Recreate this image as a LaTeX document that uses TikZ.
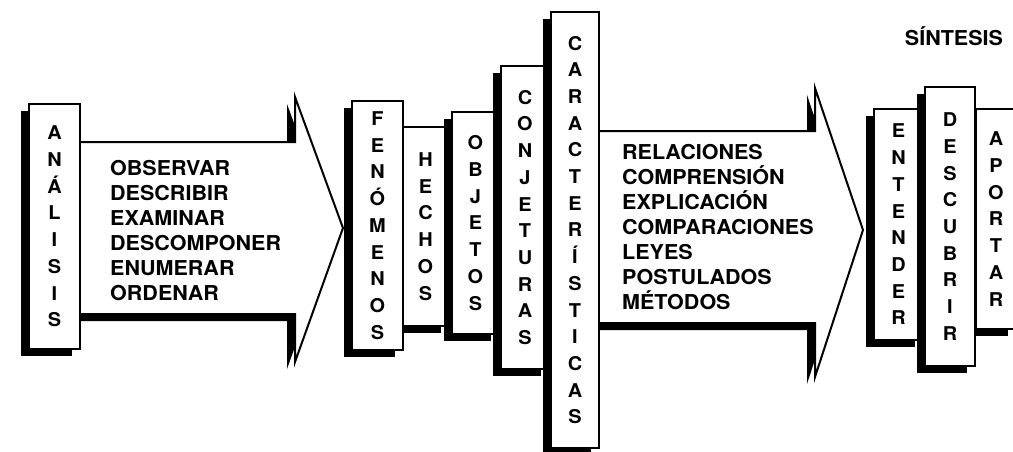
\documentclass[tikz,border=0pt]{standalone}
\usepackage{fontspec}
\setmainfont[FakeStretch=1.05]{TeX Gyre Heros}
\usetikzlibrary{shadows}

\begin{document}
\begin{tikzpicture}[
    x=1pt, y=-1pt,
    boxshadow/.style={
        drop shadow={shadow xshift=-8pt, shadow yshift=-7pt, fill=black, opacity=1}
    },
    letterbox/.style={
        draw,
        fill=white,
        line width=2.2pt,
        inner sep=0pt,
        align=center,
        font=\fontsize{19}{26.7}\selectfont\bfseries,
        boxshadow
    },
    bigarrow/.style={
        draw,
        fill=white,
        line width=2pt,
        line join=miter,
        boxshadow
    },
    arrowtext/.style={
        align=left,
        anchor=west,
        inner sep=0pt,
        font=\fontsize{20.5}{25}\selectfont\bfseries
    },
    title/.style={anchor=base, inner sep=0pt, font=\fontsize{20.5}{25}\selectfont\bfseries}
]
\useasboundingbox (0,0) rectangle (1013,452);

% analysis arrow
\filldraw[bigarrow] (60,142) -- (295,142) -- (295,97) -- (343,228) -- (295,362) -- (295,314) -- (60,314) -- cycle;

\node[letterbox, minimum width=51pt, minimum height=245pt] (analisis) at (54.5,226.5) {A\\N\\Á\\L\\I\\S\\I\\S};

% middle columns
\node[letterbox, minimum width=47pt, minimum height=199pt] (hechos) at (425.5,226.5) {H\\E\\C\\H\\O\\S};
\node[letterbox, minimum width=51pt, minimum height=249pt] (fenomenos) at (377.5,225.5) {F\\E\\N\\Ó\\M\\E\\N\\O\\S};
\node[letterbox, minimum width=47pt, minimum height=222pt] (objetos) at (475.5,223) {O\\B\\J\\E\\T\\O\\S};
\node[letterbox, minimum width=48pt, minimum height=303pt] (conjeturas) at (525,217.5) {C\\O\\N\\J\\E\\T\\U\\R\\A\\S};

% synthesis arrow
\filldraw[bigarrow] (590,131) -- (815,131) -- (815,88) -- (863,230) -- (815,377) -- (815,323) -- (590,323) -- cycle;

\node[letterbox, minimum width=48pt, minimum height=436pt] (caracteristicas) at (575,230) {C\\A\\R\\A\\C\\T\\E\\R\\Í\\S\\T\\I\\C\\A\\S};

% right columns
\node[letterbox, minimum width=40pt, minimum height=220pt] (aportar) at (996,219) {A\\P\\O\\R\\T\\A\\R};
\node[letterbox, minimum width=49pt, minimum height=231pt] (entender) at (898.5,224.5) {E\\N\\T\\E\\N\\D\\E\\R};
\node[letterbox, minimum width=50pt, minimum height=279pt] (descubrir) at (950,226.5) {D\\E\\S\\C\\U\\B\\R\\I\\R};

\node[title] (sintesis) at (954,46) {SÍNTESIS};

\node[arrowtext] (verbos) at (110,230.5) {
OBSERVAR\\
DESCRIBIR\\
EXAMINAR\\
DESCOMPONER\\
ENUMERAR\\
ORDENAR
};

\node[arrowtext] (logros) at (622,227.5) {
RELACIONES\\
COMPRENSIÓN\\
EXPLICACIÓN\\
COMPARACIONES\\
LEYES\\
POSTULADOS\\
MÉTODOS
};

\end{tikzpicture}
\end{document}
